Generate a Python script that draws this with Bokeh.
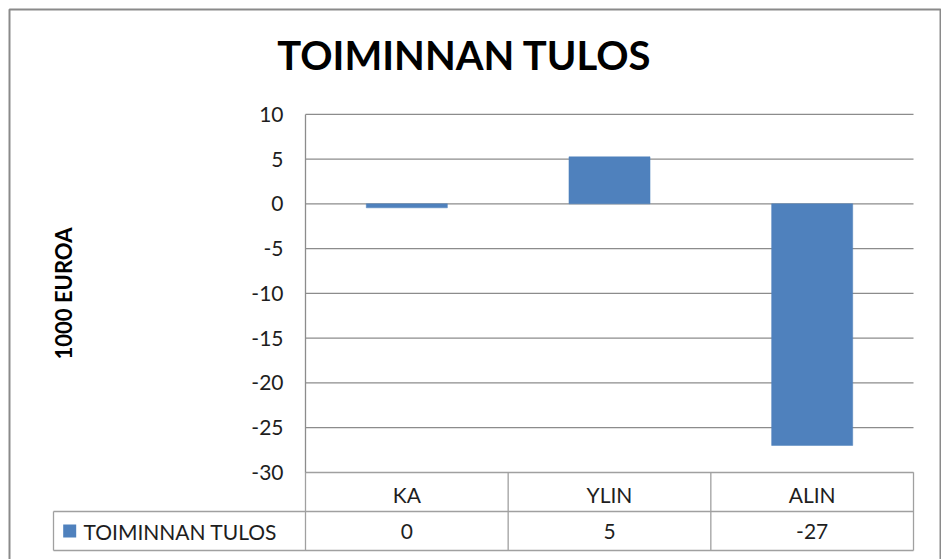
from bokeh.plotting import figure
from bokeh.models import Range1d, LinearAxis, FixedTicker
from bokeh.core.properties import value
from bokeh.embed import file_html
from bokeh.resources import INLINE

# ---------------- data ----------------
categories = ["KA", "YLIN", "ALIN"]
series_name = "TOIMINNAN TULOS"
series_values = [-0.45, 5.25, -27.0]
table_values = ["0", "5", "-27"]
y_ticks = [10, 5, 0, -5, -10, -15, -20, -25, -30]
y_tick_labels = ["10", "5", "0", "-5", "-10", "-15", "-20", "-25", "-30"]
title_text = "TOIMINNAN TULOS"
y_title = "1000 EUROA"

# ---------------- layout (page pixels) ----------------
W, H = 941, 559
OFF = 0
CAT_W = 202.67          # pixel width of one category
CAT0 = 406.33           # page x of first category centre
ZERO_PY = 203.3         # page y of value 0
PPU = 8.95              # pixels per value unit

BAR_COLOR = "#4F81BD"
GRID_COLOR = "#8c8c8c"
TABLE_COLOR = "#a0a0a0"
TEXT_COLOR = "#1e1e1e"
FONT = "Lato"


def dx(px):
    return (px - CAT0) / CAT_W


def dy(py):
    return (ZERO_PY - py) / PPU


n = len(categories)
xs = list(range(n))
y_min, y_max = min(y_ticks), max(y_ticks)
x_lo, x_hi = -0.5, n - 0.5
row_split = dy(511)
row_bottom = dy(550)
row2_mid = (row_split + row_bottom) / 2
left_edge = dx(53)

p = figure(width=W, height=H, output_backend="svg", toolbar_location=None,
           x_range=Range1d(dx(OFF), dx(OFF + W)),
           y_range=Range1d(dy(OFF + H), dy(OFF)),
           x_axis_location=None, y_axis_location=None,
           min_border_left=0, min_border_right=0,
           min_border_top=0, min_border_bottom=0)
p.outline_line_color = None
p.background_fill_color = "white"
p.border_fill_color = "white"
p.xgrid.grid_line_color = None
p.ygrid.grid_line_color = None

# horizontal gridlines from tick values
grid_vals = [t for t in y_ticks if t != y_min]
p.segment(x0=[x_lo] * len(grid_vals), x1=[x_hi] * len(grid_vals),
          y0=grid_vals, y1=grid_vals, line_color=GRID_COLOR, line_width=1.3)

# bars
p.vbar(x=xs, top=series_values, bottom=0, width=0.4,
       fill_color=BAR_COLOR, line_color=BAR_COLOR, line_width=0.5)

# y axis (inside the frame, at the plot-area left edge)
yax = LinearAxis(fixed_location=x_lo, ticker=FixedTicker(ticks=y_ticks),
                 major_label_overrides=dict(zip(y_ticks, y_tick_labels)),
                 bounds=(y_min, y_max),
                 axis_line_color=GRID_COLOR, axis_line_width=1.3,
                 major_tick_out=0, major_tick_in=0,
                 minor_tick_out=0, minor_tick_in=0,
                 major_label_standoff=22,
                 major_label_text_font=FONT,
                 major_label_text_font_size="21px",
                 major_label_text_color=TEXT_COLOR,
                 axis_label=y_title, axis_label_standoff=171,
                 axis_label_text_font=FONT,
                 axis_label_text_font_style="bold",
                 axis_label_text_font_size="22px",
                 axis_label_text_color="#000000")
p.add_layout(yax, "left")

# x axis = header row of the data table
xax = LinearAxis(fixed_location=y_min, ticker=FixedTicker(ticks=xs),
                 major_label_overrides={i: c for i, c in enumerate(categories)},
                 bounds=(x_lo, x_hi),
                 axis_line_color=TABLE_COLOR, axis_line_width=1.3,
                 major_tick_out=0, major_tick_in=0,
                 minor_tick_out=0, minor_tick_in=0,
                 major_label_standoff=10,
                 major_label_text_font=FONT,
                 major_label_text_font_size="21px",
                 major_label_text_color=TEXT_COLOR)
p.add_layout(xax, "below")

# data-table grid lines
h_y = [row_split, row_bottom]
p.segment(x0=[left_edge] * 2, x1=[x_hi] * 2, y0=h_y, y1=h_y,
          line_color=TABLE_COLOR, line_width=1.3)
v_x = [x_lo + i for i in range(n + 1)]
p.segment(x0=v_x, x1=v_x, y0=[y_min] * len(v_x), y1=[row_bottom] * len(v_x),
          line_color=TABLE_COLOR, line_width=1.3)
p.segment(x0=[left_edge], x1=[left_edge], y0=[row_split], y1=[row_bottom],
          line_color=TABLE_COLOR, line_width=1.3)

# legend key + series name in the table
p.rect(x=[dx(69.2)], y=[row2_mid], width=13, height=13,
       width_units="screen", height_units="screen",
       fill_color=BAR_COLOR, line_color=None)
p.text(x=[dx(83)], y=[row2_mid], text=[series_name],
       text_align="left", text_baseline="middle",
       text_font=value(FONT), text_font_size="21px", text_color=TEXT_COLOR)

# table values
p.text(x=xs, y=[row2_mid] * n, text=table_values,
       text_align="center", text_baseline="middle",
       text_font=value(FONT), text_font_size="21px", text_color=TEXT_COLOR)

# title
p.text(x=[dx(464)], y=[dy(54)], text=[title_text],
       text_align="center", text_baseline="middle",
       text_font=value(FONT), text_font_style="bold",
       text_font_size="40px", text_color="#000000")

# outer chart border
p.line(x=[dx(9), dx(9), dx(940), dx(940)], y=[dy(600), dy(9), dy(9), dy(600)],
       line_color="#8a8a8a", line_width=2)

open("out.html", "w").write(file_html(p, INLINE))
